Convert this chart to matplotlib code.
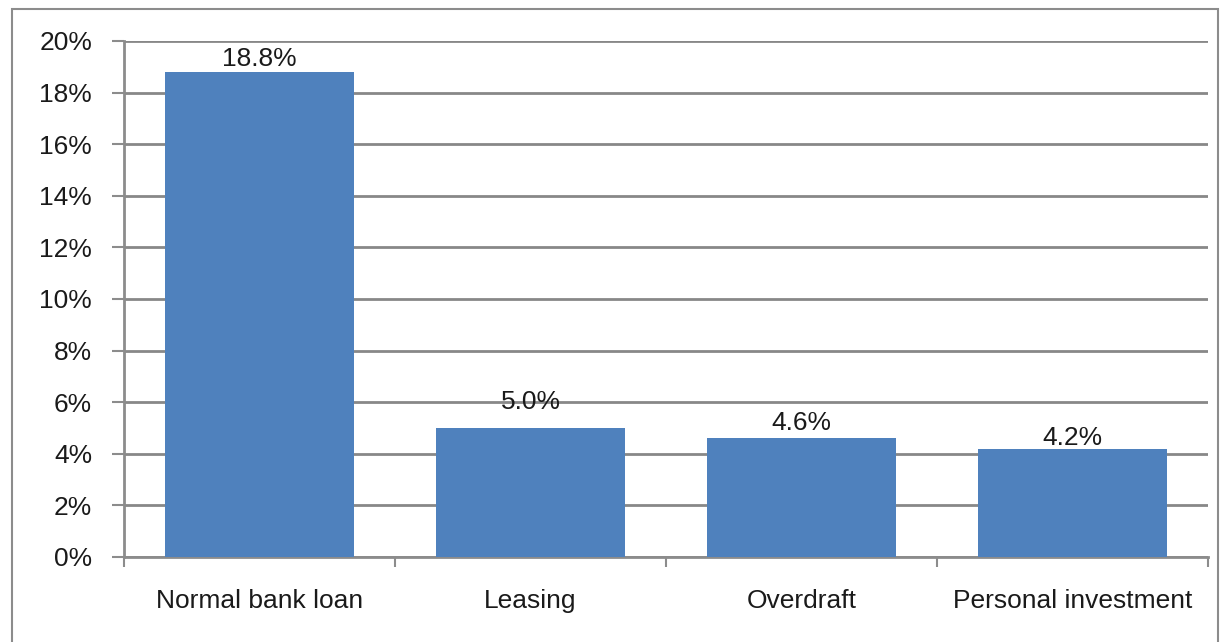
import matplotlib
matplotlib.use("Agg")
import matplotlib.pyplot as plt
from matplotlib.patches import Rectangle
from matplotlib.ticker import FixedLocator

categories = ["Normal bank loan", "Leasing", "Overdraft", "Personal investment"]
values = [18.8, 5.0, 4.6, 4.2]
labels = ["18.8%", "5.0%", "4.6%", "4.2%"]
yticks = [0, 2, 4, 6, 8, 10, 12, 14, 16, 18, 20]
ytick_labels = [f"{v}%" for v in yticks]

# label vertical offsets (pixels above bar top to label centre), as placed in the source
label_offsets_px = [13, 26, 15, 11]

plt.rcParams['font.family'] = ['Liberation Sans', 'DejaVu Sans']
W, H = 1221, 642
fig = plt.figure(figsize=(W / 100, H / 100), dpi=100)

# outer border
fig.patches.append(Rectangle((12 / W, -0.05), (1218 - 12) / W, 1.05 - 9 / H,
                             transform=fig.transFigure, fill=False,
                             edgecolor='#8c8c8c', linewidth=1.5))

left, right, top, bottom = 124, 1208, 41, 557
ax = fig.add_axes([left / W, 1 - bottom / H, (right - left) / W, (bottom - top) / H])

fs = 19
x = list(range(len(categories)))
ax.bar(x, values, width=0.70, color='#4F81BD', zorder=3)
ax.set_xlim(-0.5, len(categories) - 0.5)
ax.set_ylim(0, 20)
ax.set_yticks(yticks)
ax.set_yticklabels(ytick_labels)
ax.set_xticks(x)
ax.set_xticklabels(categories)
ax.xaxis.set_minor_locator(FixedLocator([-0.5, 0.5, 1.5, 2.5, 3.5]))
ax.tick_params(axis='x', which='major', length=0, pad=23, labelsize=fs, labelcolor='#1a1a1a')
ax.tick_params(axis='x', which='minor', length=7, width=1.5, color='#8c8c8c', direction='out')
ax.tick_params(axis='y', length=9, width=1.5, color='#8c8c8c', pad=14, labelsize=fs, labelcolor='#1a1a1a')

ax.grid(axis='y', color='#888888', linewidth=2, zorder=0)
for s in ['top', 'right']:
    ax.spines[s].set_visible(False)
for s in ['left', 'bottom']:
    ax.spines[s].set_color('#8c8c8c')
    ax.spines[s].set_linewidth(2)

for xi, v, lab, off in zip(x, values, labels, label_offsets_px):
    ax.annotate(lab, (xi, v), xytext=(0, off * 0.72), textcoords='offset points',
                ha='center', va='center', fontsize=fs, color='#1a1a1a', zorder=4)

fig.savefig("out.png", dpi=100)
